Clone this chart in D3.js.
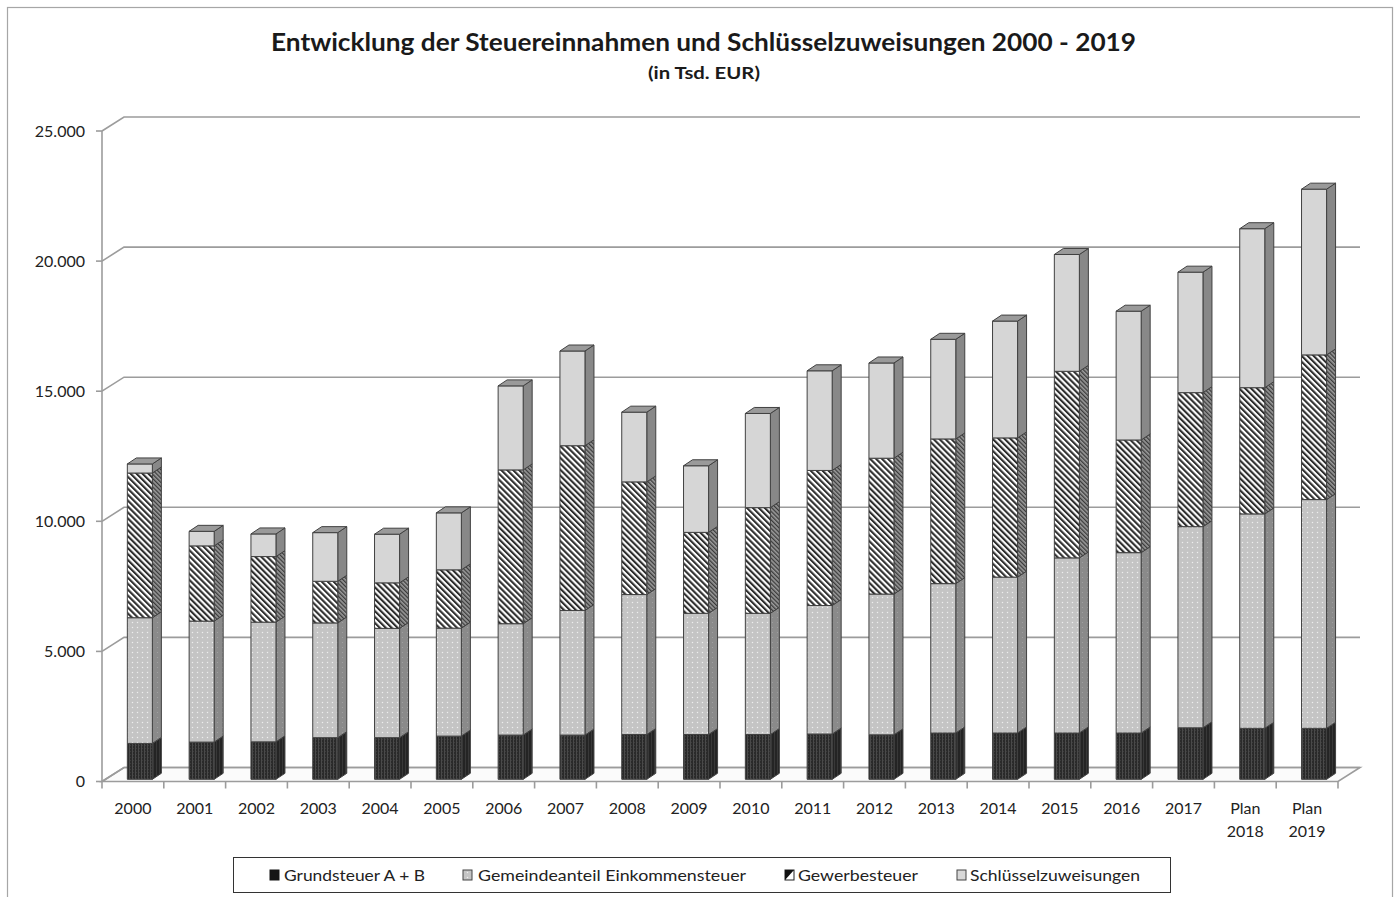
<!DOCTYPE html>
<html><head><meta charset="utf-8">
<script src="https://cdn.jsdelivr.net/npm/d3@7"></script>
<style>body{margin:0;background:#fff} svg{display:block}</style>
</head><body><svg id="c" width="1400" height="897"></svg>
<script>
const categories = ["2000","2001","2002","2003","2004","2005","2006","2007","2008","2009","2010","2011","2012","2013","2014","2015","2016","2017","Plan 2018","Plan 2019"];
const grundsteuer = [1380,1430,1440,1600,1600,1660,1700,1700,1720,1720,1720,1740,1710,1780,1780,1780,1780,1980,1960,1960];
const gemeindeanteil = [4830,4650,4600,4410,4200,4150,4280,4790,5380,4660,4660,4940,5410,5740,5990,6730,6930,7730,8240,8790];
const gewerbesteuer = [5560,2890,2520,1600,1750,2240,5910,6330,4330,3110,4060,5190,5220,5560,5350,7170,4330,5150,4850,5560];
const schluesselzuweisungen = [350,560,870,1870,1870,2190,3230,3640,2680,2560,3620,3830,3660,3830,4490,4490,4950,4630,6110,6370];
const seriesNames = ["Grundsteuer A + B","Gemeindeanteil Einkommensteuer","Gewerbesteuer","Schlüsselzuweisungen"];
const yTicks = [0,5000,10000,15000,20000,25000];
const titleText = "Entwicklung der Steuereinnahmen und Schlüsselzuweisungen 2000 - 2019";
const subtitleText = "(in Tsd. EUR)";

const FONT = "Lato, 'Open Sans', sans-serif";
const svg = d3.select("#c");

// frame
svg.append("rect").attr("x",7.5).attr("y",7.5).attr("width",1385).attr("height",900)
  .attr("fill","#fff").attr("stroke","#a6a6a6").attr("stroke-width",1.2);

// patterns
const defs = svg.append("defs");
function pat(id, w, h, bg, draw, transform){
  const p = defs.append("pattern").attr("id",id).attr("patternUnits","userSpaceOnUse")
    .attr("width",w).attr("height",h);
  if(transform) p.attr("patternTransform",transform);
  p.append("rect").attr("width",w).attr("height",h).attr("fill",bg);
  draw(p);
}
pat("grundF",3,3,"#2a2a2a",p=>{
  p.append("rect").attr("x",0).attr("y",0).attr("width",1).attr("height",3).attr("fill","#4a4a4a");
  p.append("rect").attr("x",1).attr("y",1).attr("width",1).attr("height",1).attr("fill","#3c3c3c");
});
pat("grundS",3,3,"#242424",p=>{
  p.append("rect").attr("x",0).attr("y",0).attr("width",1).attr("height",3).attr("fill","#383838");
});
pat("gemF",5,5,"#c4c4c4",p=>{
  p.append("circle").attr("cx",2.5).attr("cy",2.5).attr("r",0.75).attr("fill","#ededed");
});
pat("gemS",5,5,"#8a8a8a",p=>{
  p.append("circle").attr("cx",2.5).attr("cy",2.5).attr("r",0.6).attr("fill","#a4a4a4");
});
pat("gewF",4.2,4.2,"#ffffff",p=>{
  p.append("rect").attr("x",0).attr("y",0).attr("width",2.1).attr("height",4.2).attr("fill","#2e2e2e");
},"rotate(-45)");
pat("gewS",3,3,"#9a9a9a",p=>{
  p.append("rect").attr("x",0).attr("y",0).attr("width",1.3).attr("height",3).attr("fill","#3a3a3a");
},"rotate(-45)");

const fronts = ["url(#grundF)","url(#gemF)","url(#gewF)","#d6d6d6"];
const sides = ["url(#grundS)","url(#gemS)","url(#gewS)","#888888"];

// scales
const x = d3.scaleBand().domain(categories).range([102,1338]).padding(0);
const y = d3.scaleLinear().domain([0,25000]).range([781.5,131]);
const DX = 22, DY = -14;
const gridColor = "#9c9c9c";

// floor
const y0 = y(0);
svg.append("path")
  .attr("d",`M${x.range()[0]},${y0}L${x.range()[1]},${y0}L${x.range()[1]+DX},${y0+DY}L${x.range()[0]+DX},${y0+DY}Z`)
  .attr("fill","#fbfbfb").attr("stroke",gridColor).attr("stroke-width",1.6);

// back wall gridlines & side diagonals
const grid = svg.append("g").attr("fill","none").attr("stroke",gridColor).attr("stroke-width",1.6);
yTicks.forEach(t=>{
  const yy = y(t);
  grid.append("path").attr("d",`M${x.range()[0]},${yy}L${x.range()[0]+DX},${yy+DY}L${x.range()[1]+DX},${yy+DY}`);
});
grid.append("line").attr("x1",102).attr("x2",102).attr("y1",y(25000)).attr("y2",y(0));
yTicks.forEach(t=>{
  grid.append("line").attr("x1",96).attr("x2",102).attr("y1",y(t)).attr("y2",y(t));
});
const bounds = categories.map(c=>x(c)).concat([x.range()[1]]);
bounds.forEach(b=>{
  grid.append("line").attr("x1",b).attr("x2",b).attr("y1",y0).attr("y2",y0+7);
});

// y labels
const fmt = d3.format(",");
svg.append("g").selectAll("text").data(yTicks).join("text")
  .attr("x",85).attr("y",d=>y(d)).attr("dy","0.35em").attr("text-anchor","end")
  .attr("font-family",FONT).attr("font-size",16).attr("fill","#222")
  .text(d=>fmt(d).replace(/,/g,"."));

// x labels
const xl = svg.append("g").attr("font-family",FONT).attr("font-size",16).attr("fill","#222").attr("text-anchor","middle");
categories.forEach(c=>{
  const parts = c.split(" ");
  const cx = x(c)+x.bandwidth()/2;
  parts.forEach((p,i)=>{
    xl.append("text").attr("x",cx).attr("y",814+i*23).text(p);
  });
});

// bars
const stack = d3.stack().keys([0,1,2,3]).value((d,k)=>d[k]);
const rows = categories.map((c,i)=>[grundsteuer[i],gemeindeanteil[i],gewerbesteuer[i],schluesselzuweisungen[i]]);
const stacked = stack(rows);
const bdx = 9, bdy = -6, yoff = -2.2;
const bars = svg.append("g").attr("stroke","#404040").attr("stroke-width",1).attr("stroke-linejoin","round");
categories.forEach((c,i)=>{
  const bx = x(c)+x.bandwidth()*0.41;
  const bw = x.bandwidth()*0.405;
  let topY = null;
  stacked.forEach((s,k)=>{
    const yb = y(s[i][0])+yoff, yt = y(s[i][1])+yoff;
    bars.append("path")
      .attr("d",`M${bx+bw},${yb}L${bx+bw+bdx},${yb+bdy}L${bx+bw+bdx},${yt+bdy}L${bx+bw},${yt}Z`)
      .attr("fill",sides[k]);
    bars.append("rect").attr("x",bx).attr("y",yt).attr("width",bw).attr("height",yb-yt)
      .attr("fill",fronts[k]);
    topY = yt;
  });
  bars.append("path")
    .attr("d",`M${bx},${topY}L${bx+bdx},${topY+bdy}L${bx+bw+bdx},${topY+bdy}L${bx+bw},${topY}Z`)
    .attr("fill","#9a9a9a");
});

// title
svg.append("text").attr("x",703.5).attr("y",51).attr("text-anchor","middle")
  .attr("font-family",FONT).attr("font-weight","bold").attr("font-size",25).attr("fill","#1a1a1a")
  .attr("textLength",865).attr("lengthAdjust","spacingAndGlyphs").text(titleText);
svg.append("text").attr("x",704).attr("y",79).attr("text-anchor","middle")
  .attr("font-family",FONT).attr("font-weight","bold").attr("font-size",17).attr("fill","#1a1a1a")
  .attr("textLength",112).attr("lengthAdjust","spacingAndGlyphs").text(subtitleText);

// legend
const lg = svg.append("g");
lg.append("rect").attr("x",233.5).attr("y",857.5).attr("width",937).attr("height",35)
  .attr("fill","#fff").attr("stroke","#333").attr("stroke-width",1);
const legendPos = [
  {mx:270, tx:284, tw:141},
  {mx:463, tx:478, tw:268},
  {mx:785, tx:798, tw:120},
  {mx:957, tx:970, tw:170}
];
const my = 870, ms = 10;
lg.append("rect").attr("x",legendPos[0].mx).attr("y",my).attr("width",ms-1).attr("height",ms)
  .attr("fill","#151515").attr("stroke","#151515");
lg.append("rect").attr("x",legendPos[1].mx).attr("y",my).attr("width",ms-1).attr("height",ms)
  .attr("fill","url(#gemF)").attr("stroke","#444");
lg.append("rect").attr("x",legendPos[2].mx).attr("y",my).attr("width",ms-1).attr("height",ms)
  .attr("fill","#fff").attr("stroke","#222");
lg.append("path").attr("d",`M${legendPos[2].mx},${my}L${legendPos[2].mx+ms-1},${my}L${legendPos[2].mx},${my+ms}Z`)
  .attr("fill","#111");
lg.append("rect").attr("x",legendPos[3].mx).attr("y",my).attr("width",ms-1).attr("height",ms)
  .attr("fill","#d8d8d8").attr("stroke","#444");
lg.selectAll("text.lt").data(seriesNames).join("text").attr("class","lt")
  .attr("x",(d,i)=>legendPos[i].tx).attr("y",881)
  .attr("font-family",FONT).attr("font-size",16).attr("fill","#222")
  .attr("textLength",(d,i)=>legendPos[i].tw).attr("lengthAdjust","spacingAndGlyphs")
  .text(d=>d);
</script>
</body></html>
